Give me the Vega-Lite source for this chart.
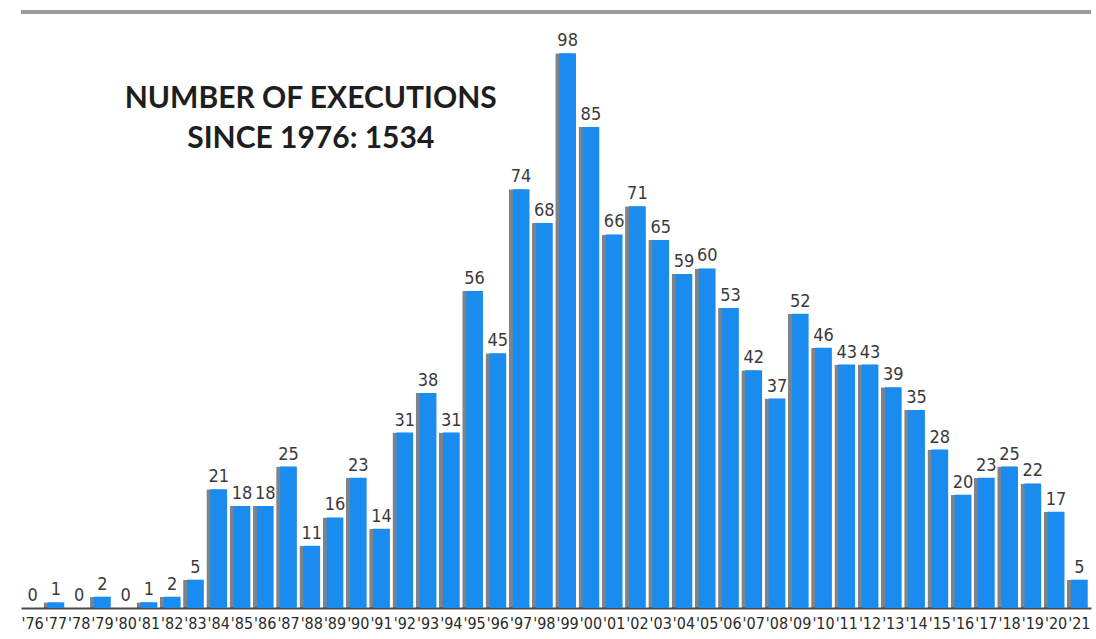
{
  "$schema": "https://vega.github.io/schema/vega-lite/v6.json",
  "autosize": "none",
  "width": 1070,
  "height": 566,
  "padding": {"left": 21, "top": 42, "right": 5, "bottom": 31},
  "background": "white",
  "config": {"view": {"stroke": null}},
  "title": {
    "text": ["NUMBER OF EXECUTIONS", "SINCE 1976: 1534"],
    "anchor": "start",
    "align": "center",
    "dx": 291,
    "dy": 167,
    "offset": 0,
    "baseline": "alphabetic",
    "font": "Lato",
    "fontSize": 30,
    "fontWeight": "bold",
    "lineHeight": 40,
    "color": "#1e1e1e"
  },
  "data": {
    "values": [
      {"year": "'76", "n": 0}, {"year": "'77", "n": 1}, {"year": "'78", "n": 0}, {"year": "'79", "n": 2},
      {"year": "'80", "n": 0}, {"year": "'81", "n": 1}, {"year": "'82", "n": 2}, {"year": "'83", "n": 5},
      {"year": "'84", "n": 21}, {"year": "'85", "n": 18}, {"year": "'86", "n": 18}, {"year": "'87", "n": 25},
      {"year": "'88", "n": 11}, {"year": "'89", "n": 16}, {"year": "'90", "n": 23}, {"year": "'91", "n": 14},
      {"year": "'92", "n": 31}, {"year": "'93", "n": 38}, {"year": "'94", "n": 31}, {"year": "'95", "n": 56},
      {"year": "'96", "n": 45}, {"year": "'97", "n": 74}, {"year": "'98", "n": 68}, {"year": "'99", "n": 98},
      {"year": "'00", "n": 85}, {"year": "'01", "n": 66}, {"year": "'02", "n": 71}, {"year": "'03", "n": 65},
      {"year": "'04", "n": 59}, {"year": "'05", "n": 60}, {"year": "'06", "n": 53}, {"year": "'07", "n": 42},
      {"year": "'08", "n": 37}, {"year": "'09", "n": 52}, {"year": "'10", "n": 46}, {"year": "'11", "n": 43},
      {"year": "'12", "n": 43}, {"year": "'13", "n": 39}, {"year": "'14", "n": 35}, {"year": "'15", "n": 28},
      {"year": "'16", "n": 20}, {"year": "'17", "n": 23}, {"year": "'18", "n": 25}, {"year": "'19", "n": 22},
      {"year": "'20", "n": 17}, {"year": "'21", "n": 5}
    ]
  },
  "encoding": {
    "x": {
      "field": "year",
      "type": "ordinal",
      "sort": null,
      "scale": {"paddingInner": 0.28, "paddingOuter": 0.14},
      "axis": {
        "title": null,
        "labelAngle": 0,
        "ticks": false,
        "domainColor": "#4a4a4a",
        "domainWidth": 2,
        "labelFont": "DejaVu Sans Condensed",
        "labelFontSize": 16,
        "labelColor": "#2a2a2a",
        "labelPadding": 7,
        "labelOverlap": false,
        "grid": false
      }
    },
    "y": {
      "field": "n",
      "type": "quantitative",
      "scale": {"domain": [0, 100], "nice": false},
      "axis": null
    }
  },
  "layer": [
    {
      "mark": {"type": "rule", "color": "#9a9a9a", "strokeWidth": 2.5},
      "encoding": {"x": null, "y": {"datum": 105.3}}
    },
    {
      "mark": {"type": "bar", "color": "#27313b", "opacity": 0.6, "xOffset": -4, "cornerRadius": 1}
    },
    {
      "mark": {"type": "bar", "color": "#1a8cf0"}
    },
    {
      "mark": {
        "type": "text",
        "baseline": "alphabetic",
        "dy": -7,
        "font": "DejaVu Sans Condensed",
        "fontSize": 18,
        "color": "#3a3a3a"
      },
      "encoding": {"text": {"field": "n", "type": "quantitative"}}
    }
  ]
}
